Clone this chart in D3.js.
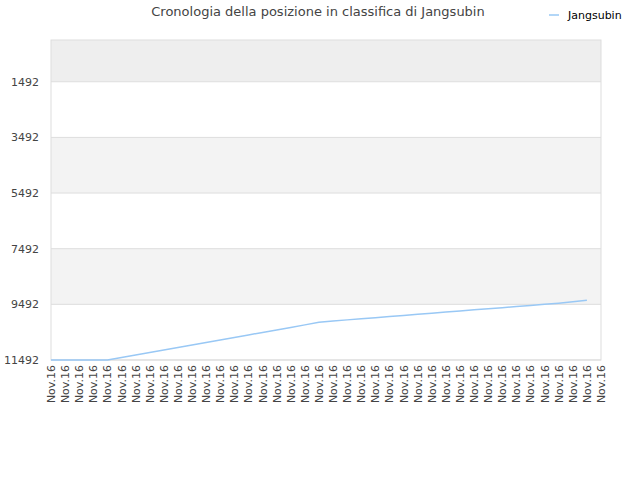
<!DOCTYPE html>
<html><head><meta charset="utf-8">
<script src="https://cdn.jsdelivr.net/npm/d3@7"></script>
<style>body{margin:0;font-family:"DejaVu Sans",sans-serif;}</style>
</head><body><div id="vis"></div>
<script>
var labels = ["Nov.16","Nov.16","Nov.16","Nov.16","Nov.16","Nov.16","Nov.16","Nov.16","Nov.16","Nov.16",
  "Nov.16","Nov.16","Nov.16","Nov.16","Nov.16","Nov.16","Nov.16","Nov.16","Nov.16","Nov.16",
  "Nov.16","Nov.16","Nov.16","Nov.16","Nov.16","Nov.16","Nov.16","Nov.16","Nov.16","Nov.16",
  "Nov.16","Nov.16","Nov.16","Nov.16","Nov.16","Nov.16","Nov.16","Nov.16","Nov.16","Nov.16"];
var ranks = [11492,11492,11492,11492,11492,11400,11310,11220,11130,11040,
  10950,10860,10770,10680,10590,10500,10410,10320,10230,10135,
  10090,10050,10010,9970,9930,9890,9850,9810,9770,9730,
  9690,9650,9610,9570,9530,9490,9450,9400,9349];
var yTicks = [1492,3492,5492,7492,9492,11492];

var W = 640, H = 480, L = 51, R = 601, T = 40, B = 360;
var svg = d3.select("#vis").append("svg").attr("width", W).attr("height", H);
var x = d3.scaleLinear().domain([0, labels.length - 1]).range([L, R]);
var y = d3.scaleLinear().domain([-8, 11492]).range([T, B]);

// bands
var edges = [-8].concat(yTicks);
for (var i = 0; i < edges.length - 1; i++) {
  svg.append("rect").attr("x", L).attr("width", R - L)
    .attr("y", y(edges[i])).attr("height", y(edges[i+1]) - y(edges[i]))
    .attr("fill", i == 0 ? "#eeeeee" : (i % 2 == 0 ? "#f3f3f3" : "#ffffff"));
}
svg.selectAll(".g").data(yTicks).enter().append("line")
  .attr("x1", L).attr("x2", R).attr("y1", d => y(d)).attr("y2", d => y(d))
  .attr("stroke", "#dddddd");
svg.append("rect").attr("x", L).attr("y", T).attr("width", R - L).attr("height", B - T)
  .attr("fill", "none").attr("stroke", "#dddddd");

svg.selectAll(".yl").data(yTicks).enter().append("text")
  .attr("x", L - 12).attr("y", d => y(d) + 4).attr("text-anchor", "end")
  .attr("font-size", 11).attr("fill", "#444").text(d => d);

svg.selectAll(".xl").data(labels).enter().append("text")
  .attr("transform", (d, i) => "translate(" + (x(i) + 4) + "," + (B + 5) + ") rotate(-90)")
  .attr("text-anchor", "end").attr("font-size", 11).attr("fill", "#444").text(d => d);

svg.append("path").datum(ranks)
  .attr("d", d3.line().x((d, i) => x(i)).y(d => y(d)))
  .attr("fill", "none").attr("stroke", "#99c8f5").attr("stroke-width", 1.5);

svg.append("text").attr("x", 318).attr("y", 16).attr("text-anchor", "middle")
  .attr("font-size", 13).attr("fill", "#444").text("Cronologia della posizione in classifica di Jangsubin");
svg.append("line").attr("x1", 549).attr("x2", 559).attr("y1", 15).attr("y2", 15)
  .attr("stroke", "#99c8f5").attr("stroke-width", 1.5);
svg.append("text").attr("x", 568).attr("y", 19).attr("font-size", 11).attr("fill", "#000").text("Jangsubin");
</script></body></html>
